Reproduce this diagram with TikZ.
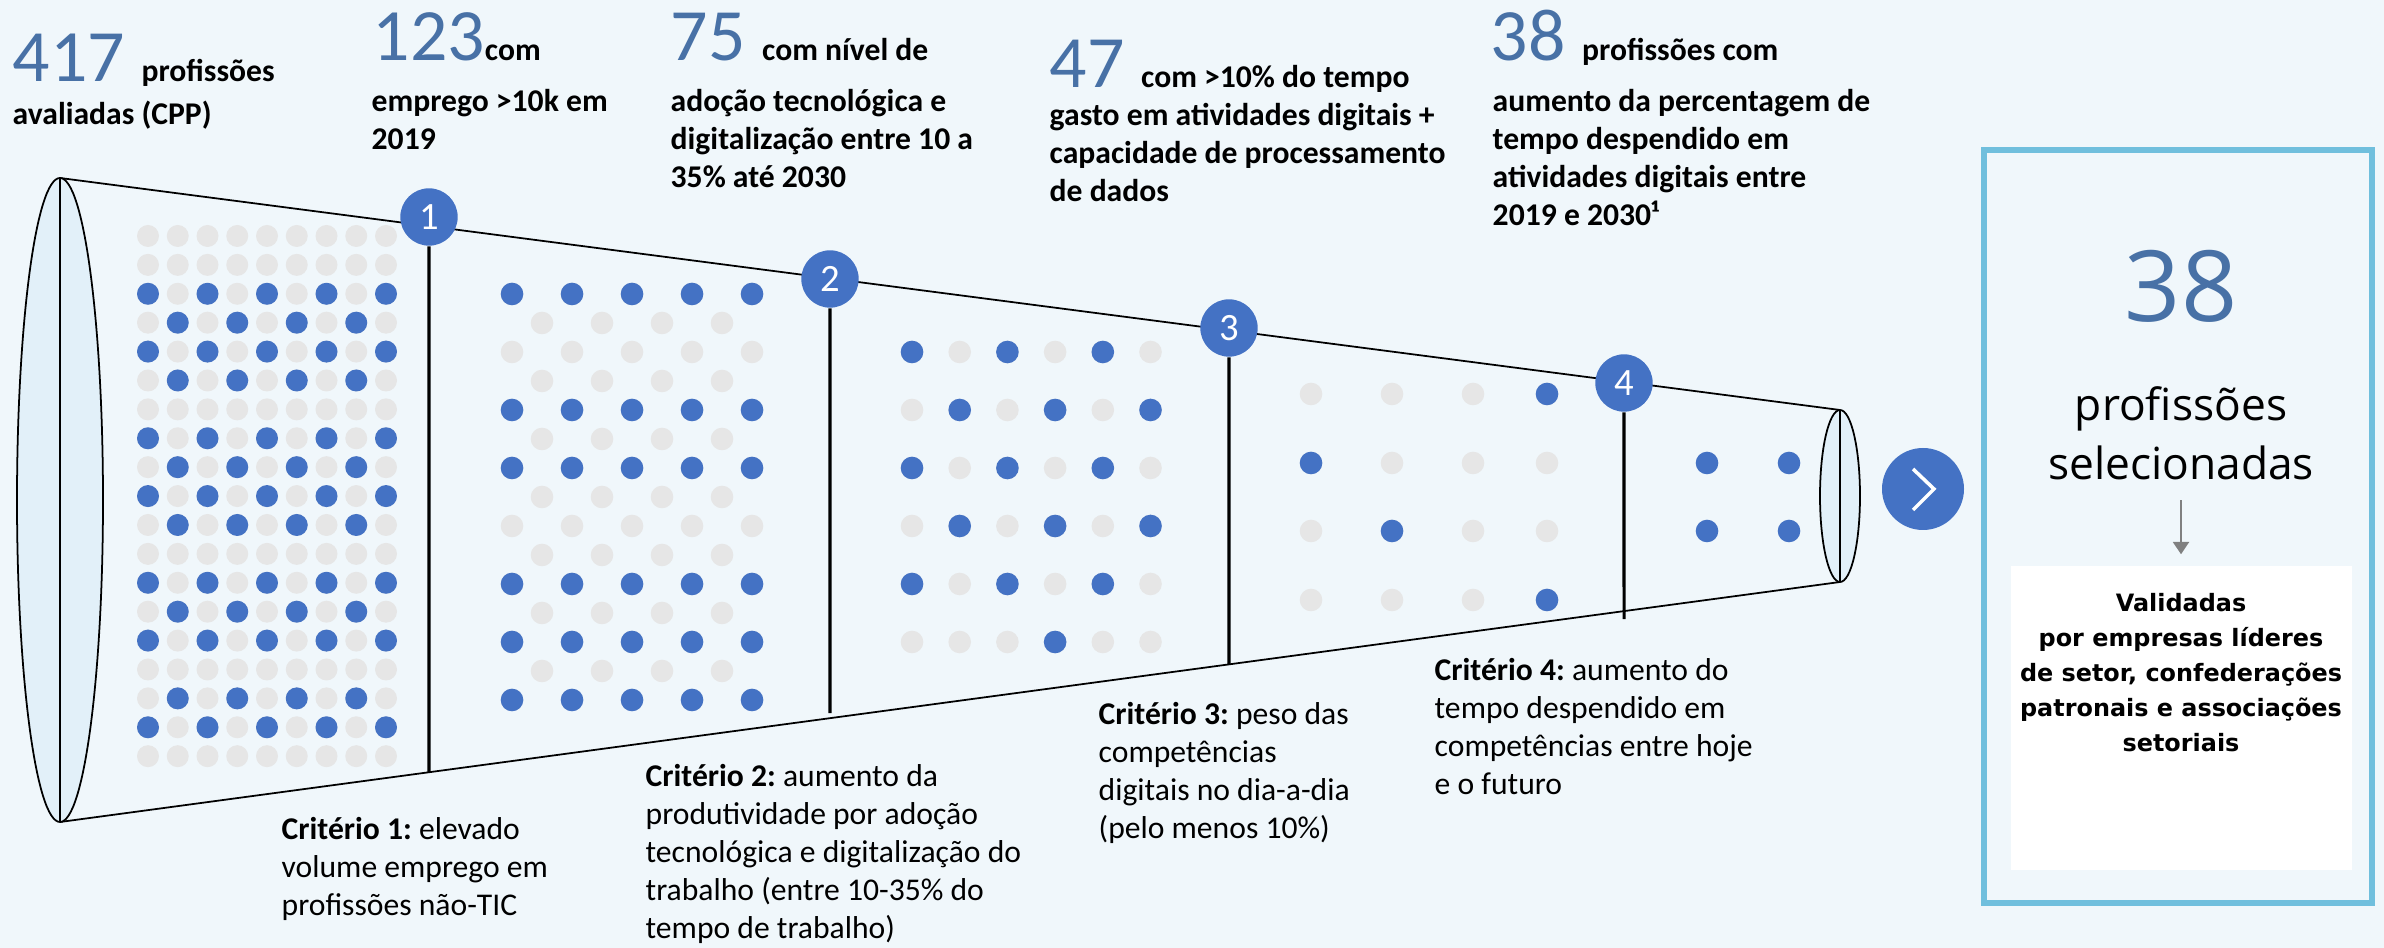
\documentclass[tikz,border=0pt]{standalone}
\usepackage{fontspec}
\setmainfont{Carlito}
\newfontfamily\opensans{Open Sans}
\newfontfamily\dejavu{DejaVu Sans}
\usetikzlibrary{calc}
\usetikzlibrary{positioning}
\usetikzlibrary{arrows.meta}
\frenchspacing

\definecolor{bgblue}{RGB}{240,247,251}
\definecolor{dotblue}{RGB}{68,114,196}
\definecolor{dotgrey}{RGB}{230,230,230}
\definecolor{numblue}{RGB}{72,113,166}
\definecolor{lensblue}{RGB}{226,240,249}
\definecolor{frameblue}{RGB}{112,191,221}
\definecolor{arrowgrey}{RGB}{128,128,128}

\newcommand{\headtxt}[1]{{\color{black}\fontsize{9}{10.8}\selectfont\bfseries #1}}

\begin{document}
\begin{tikzpicture}[
    bignum/.style={anchor=base west,inner sep=0pt,text=numblue,font=\fontsize{21}{21}\selectfont},
    headbody/.style={anchor=base west,inner sep=0pt,align=left,font=\fontsize{9}{10.8}\selectfont\bfseries},
    crit/.style={anchor=base west,inner sep=0pt,align=left,font=\fontsize{9}{10.8}\selectfont},
    stepnum/.style={circle,fill=dotblue,text=white,minimum size=0.574cm,inner sep=0pt,font=\fontsize{11}{11}\selectfont},
    gobtn/.style={circle,fill=dotblue,minimum size=0.82cm,inner sep=0pt},
    stem/.style={line width=0.9pt},
    funnel/.style={line width=0.5pt},
    panel/.style={draw=frameblue,line width=1.8pt,minimum width=3.88cm,minimum height=7.53cm,inner sep=0pt},
    valbox/.style={fill=white,minimum width=3.41cm,minimum height=3.04cm,inner sep=0pt},
    seltxt/.style={anchor=base,inner sep=0pt,align=center,font=\opensans\fontsize{12.6}{16.8}\selectfont},
    valtxt/.style={anchor=base,inner sep=0pt,align=center,font=\dejavu\bfseries\fontsize{6.8}{10}\selectfont},
]
    % Background
    \fill[bgblue] (0,0) rectangle (23.84,-9.48);
    \useasboundingbox (0,0) rectangle (23.84,-9.48);

    % Funnel
    \coordinate (tl) at (0.60,-1.78);
    \coordinate (bl) at (0.60,-8.22);
    \coordinate (tr) at (18.40,-4.10);
    \coordinate (br) at (18.40,-5.82);
    \draw[funnel] (tl) -- (tr);
    \draw[funnel] (bl) -- (br);
    \draw[funnel,fill=lensblue] (0.60,-5.00) ellipse (0.43 and 3.22);
    \draw[funnel] (tl) -- (bl);
    \draw[funnel,fill=lensblue] (18.40,-4.96) ellipse (0.20 and 0.86);
    \draw[funnel] (tr) -- (br);

    % Stage 1
    \begin{scope}[shift={(1.48,-2.36)}]
        \foreach \r in {0,...,18}
            \foreach \c in {0,...,8}
                \fill[dotgrey] ({\c*0.2975},{-\r*0.289}) circle (0.11);
        \foreach \r in {2,4,7,9,12,14,17}
            \foreach \c in {0,2,...,8}
                \fill[dotblue] ({\c*0.2975},{-\r*0.289}) circle (0.11);
        \foreach \r in {3,5,8,10,13,16}
            \foreach \c in {1,3,5,7}
                \fill[dotblue] ({\c*0.2975},{-\r*0.289}) circle (0.11);
    \end{scope}

    % Stage 2
    \begin{scope}[shift={(5.12,-2.94)}]
        \foreach \r in {0,2,...,14}
            \foreach \c in {0,...,4}
                \fill[dotgrey] ({\c*0.6},{-\r*0.29}) circle (0.113);
        \foreach \r in {1,3,...,13}
            \foreach \c in {0,...,3}
                \fill[dotgrey] ({0.3+\c*0.6},{-\r*0.29}) circle (0.113);
        \foreach \r in {0,4,6,10,12,14}
            \foreach \c in {0,...,4}
                \fill[dotblue] ({\c*0.6},{-\r*0.29}) circle (0.113);
    \end{scope}

    % Stage 3
    \begin{scope}[shift={(9.12,-3.52)}]
        \foreach \r in {0,...,5}
            \foreach \c in {0,...,5}
                \fill[dotgrey] ({\c*0.477},{-\r*0.58}) circle (0.113);
        \foreach \r in {0,2,4}
            \foreach \c in {0,2,4}
                \fill[dotblue] ({\c*0.477},{-\r*0.58}) circle (0.113);
        \foreach \r in {1,3}
            \foreach \c in {1,3,5}
                \fill[dotblue] ({\c*0.477},{-\r*0.58}) circle (0.113);
        \fill[dotblue] ({3*0.477},{-5*0.58}) circle (0.113);
    \end{scope}

    % Stage 4
    \foreach \x in {13.11,13.92,14.73,15.47}
        \foreach \y in {-3.94,-4.63,-5.31,-6.00}
            \fill[dotgrey] (\x,\y) circle (0.113);
    \foreach \x/\y in {15.47/-3.94,13.11/-4.63,13.92/-5.31,15.47/-6.00}
        \fill[dotblue] (\x,\y) circle (0.113);

    % Result
    \foreach \x in {17.07,17.89}
        \foreach \y in {-4.63,-5.31}
            \fill[dotblue] (\x,\y) circle (0.113);

    % Filters
    \node[stepnum] (s1) at (4.29,-2.17) {1};
    \node[stepnum] (s2) at (8.30,-2.79) {2};
    \node[stepnum] (s3) at (12.29,-3.28) {3};
    \node[stepnum] (s4) at (16.24,-3.83) {4};
    \coordinate (e1) at ($(bl)!0.2073!(br)$);
    \coordinate (e2) at ($(bl)!0.4326!(br)+(0,0.05)$);
    \coordinate (e3) at ($(bl)!0.6567!(br)$);
    \coordinate (e4) at ($(bl)!0.8787!(br)+(0,-0.08)$);
    \draw[stem] (s1) -- (e1);
    \draw[stem] (s2) -- (e2);
    \draw[stem] (s3) -- (e3);
    \draw[stem] (s4) -- (e4);

    % Next
    \node[gobtn] (go) at (19.23,-4.89) {};
    \draw[white,line width=1pt] ($(go)+(-0.10,0.20)$) -- ($(go)+(0.11,0)$) -- ($(go)+(-0.10,-0.21)$);

    % Headline figures (base = last line)
    \node[bignum] (h417) at (0.12,-0.82) {417 \headtxt{profissões}};
    \node[headbody] (b417) at (0.12,-1.25) {avaliadas (CPP)};
    \node[bignum] (h123) at (3.72,-0.61) {123\headtxt{com}};
    \node[headbody] (b123) at (3.71,-1.491) {emprego >10k em\\2019};
    \node[bignum] (h75) at (6.70,-0.61) {75 \headtxt{com nível de}};
    \node[headbody] (b75) at (6.70,-1.872) {adoção tecnológica e\\digitalização entre 10 a\\35\% até 2030};
    \node[bignum] (h47) at (10.49,-0.88) {47 \headtxt{com >10\% do tempo}};
    \node[headbody] (b47) at (10.49,-2.012) {gasto em atividades digitais +\\capacidade de processamento\\de dados};
    \node[bignum] (h38) at (14.90,-0.61) {38 \headtxt{profissões com}};
    \node[headbody] (b38) at (14.92,-2.253) {aumento da percentagem de\\tempo despendido em\\atividades digitais entre\\2019 e 2030¹};

    % Criteria
    \node[crit] (k1) at (2.81,-9.152) {\textbf{Critério 1:} elevado\\volume emprego em\\profissões não-TIC};
    \node[crit] (k2) at (6.45,-9.384) {\textbf{Critério 2:} aumento da\\produtividade por adoção\\tecnológica e digitalização do\\trabalho (entre 10-35\% do\\tempo de trabalho)};
    \node[crit] (k3) at (10.98,-8.383) {\textbf{Critério 3:} peso das\\competências\\digitais no dia-a-dia\\(pelo menos 10\%)};
    \node[crit] (k4) at (14.34,-7.943) {\textbf{Critério 4:} aumento do\\tempo despendido em\\competências entre hoje\\e o futuro};

    % Selected
    \node[panel] (panel) at (21.78,-5.265) {};
    \node[anchor=base,inner sep=0pt,text=numblue,font=\opensans\fontsize{28}{28}\selectfont] (n38) at (21.81,-3.22) {38};
    \node[seltxt] (sel) at (21.81,-4.793) {profissões\\selecionadas};
    \node[valbox] (val) at (21.81,-7.18) {};
    \node[valtxt] (valtxt) at (21.81,-7.516) {Validadas\\por empresas líderes\\de setor, confederações\\patronais e associações\\setoriais};
    \draw[arrowgrey,line width=0.7pt,-{Triangle[width=4.5pt,length=3.5pt]},shorten <=0.2cm,shorten >=0.11cm] (sel) -- (val);
\end{tikzpicture}
\end{document}
